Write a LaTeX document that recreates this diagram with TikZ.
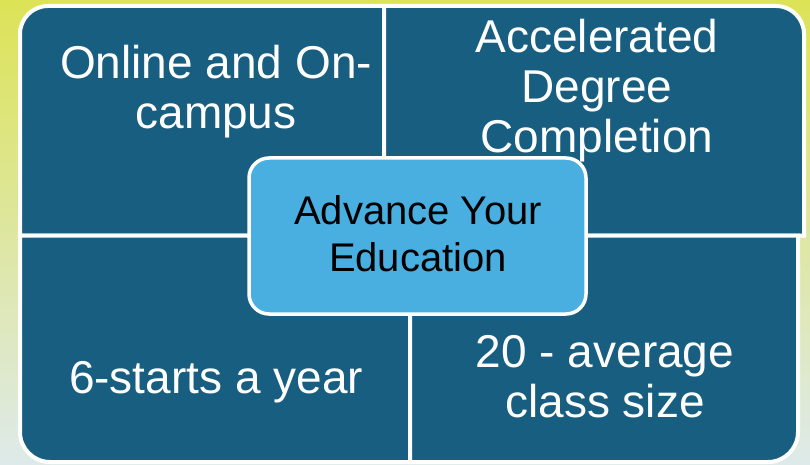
\documentclass[tikz,border=0pt]{standalone}
\usepackage{fontspec}
\setmainfont{Liberation Sans}
\definecolor{quadfill}{RGB}{23,94,128}
\definecolor{centerfill}{RGB}{72,175,224}
\definecolor{bgtop}{RGB}{221,227,86}
\definecolor{bgmid}{RGB}{214,226,178}
\definecolor{bgbot}{RGB}{222,234,234}
\begin{document}
\begin{tikzpicture}[x=1pt,y=1pt,
  quad/.style={fill=quadfill, draw=white, line width=4pt},
  centerbox/.style={fill=centerfill, draw=white, line width=3.5pt, rounded corners=20pt,
    minimum width=337pt, minimum height=156pt, inner sep=0pt},
  quadtext/.style={text=white, align=center, anchor=base, inner sep=0pt,
    font=\fontsize{46}{50}\selectfont},
  centertext/.style={text=black, align=center, anchor=base, inner sep=0pt,
    font=\fontsize{40}{47}\selectfont}]
\useasboundingbox (0,0) rectangle (810,464);
\shade[top color=bgtop, middle color=bgmid, bottom color=bgbot] (0,0) rectangle (810,464);
% quadrants
\draw[quad] (20,228.5) -- (20,430) arc[start angle=180, end angle=90, radius=28] -- (384,458) -- (384,228.5) -- cycle;
\draw[quad] (384,228.5) -- (384,458) -- (776,458) arc[start angle=90, end angle=0, radius=28] -- (804,228.5) -- cycle;
\draw[quad] (20,228.5) -- (410,228.5) -- (410,2) -- (50,2) arc[start angle=270, end angle=180, radius=30] -- cycle;
\draw[quad] (410,228.5) -- (798,228.5) -- (798,32) arc[start angle=0, end angle=-90, radius=30] -- (410,2) -- cycle;
% texts (anchor = baseline of last line)
\node[quadtext] (tl) at (216,335) {Online and On-\\campus};
\node[quadtext] (tr) at (597,311) {Accelerated\\Degree\\Completion};
\node[quadtext] (bl) at (216,71) {6-starts a year};
\node[quadtext] (br) at (605,47) {20 - average\\class size};
% center
\node[centerbox] (c) at (417.5,228) {};
\node[centertext] (ct) at (418,193) {Advance Your\\Education};
\end{tikzpicture}
\end{document}
